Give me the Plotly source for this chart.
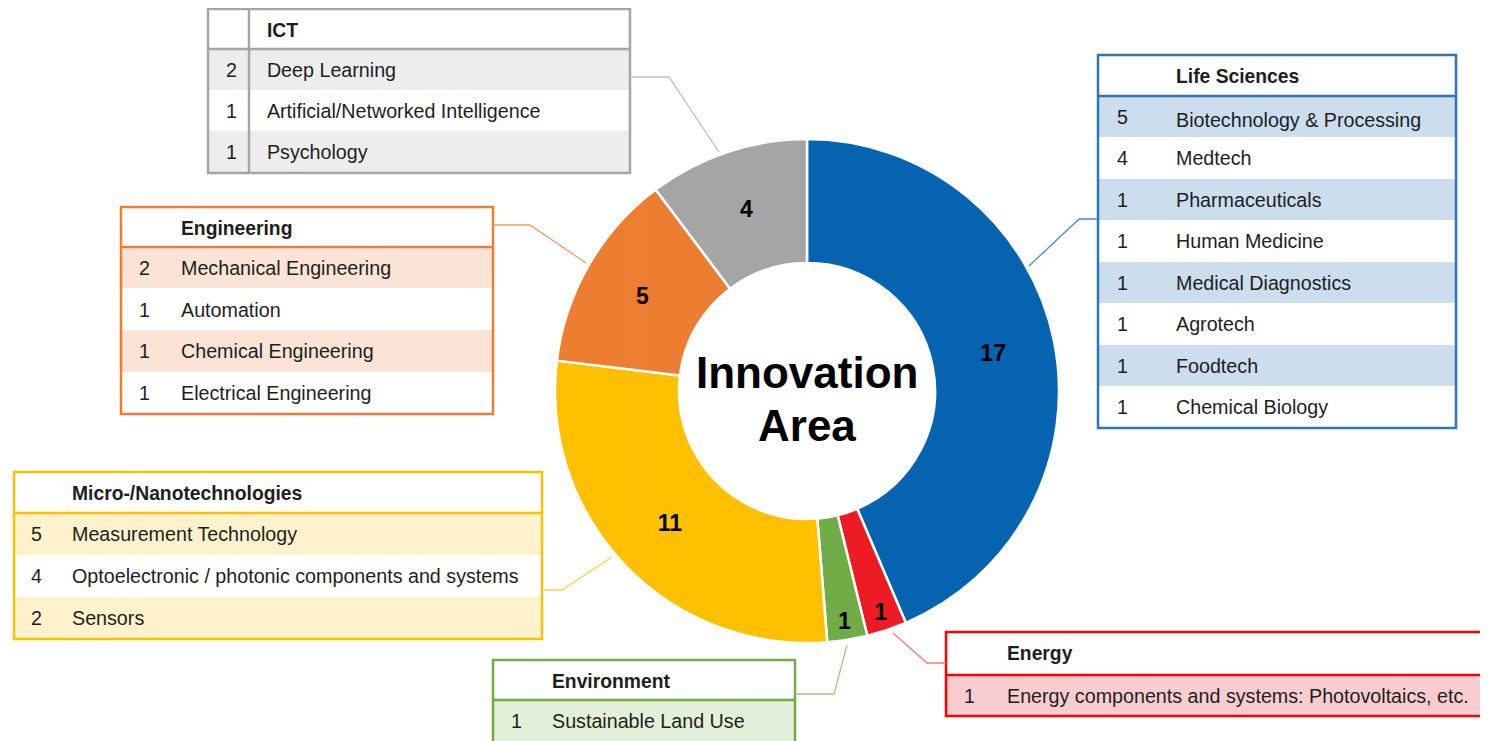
import plotly.graph_objects as go

W, H = 1488, 741
OFF = 8  # the page places the figure 8px in from the top-left corner
FONT = "Liberation Sans, Arial, sans-serif"
TXT = "#1e1e1e"

# ---------------- data ----------------
areas = ["Life Sciences", "Energy", "Environment", "Micro-/Nanotechnologies", "Engineering", "ICT"]
area_counts = [17, 1, 1, 11, 5, 4]
area_colors = ["#0563B0", "#ED1C24", "#70AD47", "#FFC000", "#ED7D31", "#A5A5A5"]

ict_topics = ["Deep Learning", "Artificial/Networked Intelligence", "Psychology"]
ict_counts = [2, 1, 1]

eng_topics = ["Mechanical Engineering", "Automation", "Chemical Engineering", "Electrical Engineering"]
eng_counts = [2, 1, 1, 1]

life_topics = ["Biotechnology & Processing", "Medtech", "Pharmaceuticals", "Human Medicine",
               "Medical Diagnostics", "Agrotech", "Foodtech", "Chemical Biology"]
life_counts = [5, 4, 1, 1, 1, 1, 1, 1]

micro_topics = ["Measurement Technology", "Optoelectronic / photonic components and systems", "Sensors"]
micro_counts = [5, 4, 2]

env_topics = ["Sustainable Land Use"]
env_counts = [1]

energy_topics = ["Energy components and systems: Photovoltaics, etc."]
energy_counts = [1]

# ---------------- layout constants (screen pixels) ----------------
def px(x):
    return (x - OFF) / W

def py(y):
    return 1 - (y - OFF) / H

def clampx(x):
    return max(OFF, min(x, W + OFF))

def clampy(y):
    return max(OFF, min(y, H + OFF))

SH_HEAD = 3   # vertical nudge of header text
SH_ROW = 5    # vertical nudge of row text

tables = [
    dict(title="ICT", topics=ict_topics, counts=ict_counts, box=(208, 9, 630, 173), hh=40, rh=41.33,
         num_left=226, name_x=267, border="#A5A5A5", fill="#EDEDED", divider=249),
    dict(title="Engineering", topics=eng_topics, counts=eng_counts, box=(121, 207, 493, 414), hh=40, rh=41.75,
         num_left=139, name_x=181, border="#ED7D31", fill="#FBE4D5", divider=None),
    dict(title="Life Sciences", topics=life_topics, counts=life_counts, box=(1098, 55, 1456, 428), hh=41, rh=41.5,
         num_left=1117, name_x=1176, border="#2E75B6", fill="#CCDDEE", divider=None),
    dict(title="Micro-/Nanotechnologies", topics=micro_topics, counts=micro_counts, box=(14, 472, 542, 639), hh=41,
         rh=42, num_left=31, name_x=72, border="#FFC000", fill="#FFF2CC", divider=None),
    dict(title="Environment", topics=env_topics, counts=env_counts, box=(493, 660, 795, 760), hh=40, rh=41,
         num_left=511, name_x=552, border="#70AD47", fill="#E2EFD9", divider=None),
    dict(title="Energy", topics=energy_topics, counts=energy_counts, box=(946, 632, 1510, 716), hh=43, rh=41,
         num_left=964, name_x=1007, border="#FF0000", fill="#F9CDD0", divider=None),
]

leaders = [
    ("#BFBFBF", [(630, 77), (669, 77), (719, 152)]),
    ("#F29A63", [(493, 225), (530, 225), (586, 263)]),
    ("#4A8CCB", [(1098, 219), (1079, 219), (1029, 266)]),
    ("#FFD34F", [(542, 590), (562, 590), (612, 557)]),
    ("#9CCB7C", [(795, 694), (834, 694), (847, 645)]),
    ("#F27A7A", [(946, 663), (927, 663), (893, 633)]),
]

pie_center = (807, 391)
pie_r = 252

fig = go.Figure()

# ---------------- donut ----------------
fig.add_trace(go.Pie(
    labels=areas, values=area_counts, sort=False, direction="clockwise", rotation=0,
    hole=0.508, marker=dict(colors=area_colors, line=dict(color="white", width=2.5)),
    textinfo="value", textposition="inside", insidetextorientation="horizontal",
    textfont=dict(family=FONT, size=23, color="black", weight="bold"),
    domain=dict(x=[px(pie_center[0] - pie_r), px(pie_center[0] + pie_r)],
                y=[py(pie_center[1] + pie_r), py(pie_center[1] - pie_r)]),
    showlegend=False, hoverinfo="label+value",
))

shapes = []
for t in tables:
    x0, y0, x1, y1 = t["box"]
    n = len(t["topics"])
    fills = [t["fill"] if i % 2 == 0 else "white" for i in range(n)]
    split = t["name_x"] - 8
    xl, xr = clampx(x0), clampx(x1)
    yt, yb = clampy(y0), clampy(y1)
    # background table (row fills)
    fig.add_trace(go.Table(
        domain=dict(x=[px(xl), px(xr)], y=[py(yb), py(yt)]),
        columnwidth=[split - xl, xr - split],
        header=dict(values=["", ""], height=t["hh"] - (yt - y0), fill=dict(color="white"),
                    line=dict(color="white", width=1)),
        cells=dict(values=[[""] * n, [""] * n], height=t["rh"], fill=dict(color=[fills, fills]),
                   line=dict(color=[fills, fills], width=1)),
    ))
    # text table
    top = y0 + SH_HEAD
    fig.add_trace(go.Table(
        domain=dict(x=[px(t["num_left"] - 8), px(xr)], y=[0, py(top)]),
        columnwidth=[t["name_x"] - t["num_left"], xr - t["name_x"] + 8],
        header=dict(values=["", "<b>" + t["title"] + "</b>"], height=t["hh"] + SH_ROW - SH_HEAD, align="left",
                    fill=dict(color="rgba(0,0,0,0)"), line=dict(color="rgba(0,0,0,0)", width=0),
                    font=dict(family=FONT, size=19.3, color=TXT)),
        cells=dict(values=[[str(c) for c in t["counts"]], t["topics"]], height=t["rh"],
                   align="left", fill=dict(color="rgba(0,0,0,0)"), line=dict(color="rgba(0,0,0,0)", width=0),
                   font=dict(family=FONT, size=19.7, color=TXT)),
    ))
    # borders
    shapes.append(dict(type="rect", xref="paper", yref="paper", x0=px(x0), x1=px(x1), y0=py(y1), y1=py(y0),
                       line=dict(color=t["border"], width=2.5), fillcolor="rgba(0,0,0,0)"))
    shapes.append(dict(type="line", xref="paper", yref="paper", x0=px(x0), x1=px(x1),
                       y0=py(y0 + t["hh"]), y1=py(y0 + t["hh"]), line=dict(color=t["border"], width=2.5)))
    if t["divider"]:
        shapes.append(dict(type="line", xref="paper", yref="paper", x0=px(t["divider"]), x1=px(t["divider"]),
                           y0=py(y1), y1=py(y0), line=dict(color=t["border"], width=2.5)))

for color, pts in leaders:
    path = "M " + " L ".join(f"{px(x)},{py(y)}" for x, y in pts)
    shapes.append(dict(type="path", xref="paper", yref="paper", path=path,
                       line=dict(color=color, width=1.3)))

fig.update_layout(
    width=W, height=H, margin=dict(l=0, r=0, t=0, b=0),
    paper_bgcolor="white", plot_bgcolor="white",
    shapes=shapes,
    uniformtext=dict(minsize=23, mode="show"),
    annotations=[
        dict(text="<b>Innovation</b>", x=px(807), y=py(372), xref="paper", yref="paper", showarrow=False,
             xanchor="center", yanchor="middle", font=dict(family=FONT, size=44, color="black")),
        dict(text="<b>Area</b>", x=px(807), y=py(425), xref="paper", yref="paper", showarrow=False,
             xanchor="center", yanchor="middle", font=dict(family=FONT, size=44, color="black")),
    ],
)

fig.write_html("out.html")
